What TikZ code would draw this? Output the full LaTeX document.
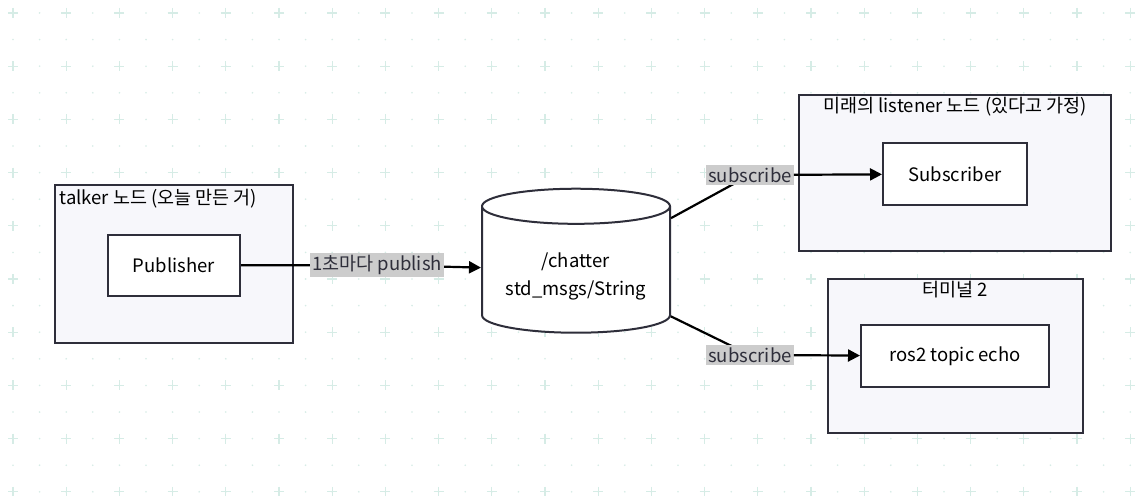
\documentclass[tikz,border=0pt]{standalone}
\usepackage{fontspec}
\setmainfont{Noto Sans CJK KR}
\usetikzlibrary{shapes.geometric,arrows.meta}
\definecolor{grid}{HTML}{D6ECE6}
\definecolor{edge}{HTML}{2E2E3A}
\definecolor{clfill}{HTML}{F7F7FB}
\definecolor{lbl}{HTML}{CCCCCC}
\begin{document}
\begin{tikzpicture}[x=1pt,y=-1pt,
  font=\fontsize{18.5}{22}\selectfont,
  cluster/.style={draw=edge,line width=2pt,fill=clfill},
  box/.style={draw=edge,line width=2pt,fill=white,inner sep=0},
  elab/.style={fill=lbl,inner xsep=2pt,inner ysep=2.5pt,text=edge},
  conn/.style={line width=2.2pt,black},
  arr/.style={conn,-{Triangle[length=12pt,width=12pt]}}]
\useasboundingbox (0,0) rectangle (1145,495);
\fill[white] (0,0) rectangle (1145,495);
\foreach \i in {0,...,43} \foreach \j in {0,...,18} {
  \fill[grid] (13+26.6*\i,13+26.6*\j) circle (0.9);
}
\foreach \i in {0,...,21} \foreach \j in {0,...,9} {
  \draw[grid,line width=1.2pt] (13+53.2*\i-5,13+53.2*\j) -- ++(10,0) (13+53.2*\i,13+53.2*\j-5) -- ++(0,10);
}
% clusters
\node[cluster,minimum width=238,minimum height=158] (c1) at (174,264) {};
\node[anchor=north west] (t1) at (56,186) {talker 노드 (오늘 만든 거)};
\node[cluster,minimum width=312,minimum height=156] (c2) at (955,173) {};
\node[anchor=north] (t2) at (955,94) {미래의 listener 노드 (있다고 가정)};
\node[cluster,minimum width=255,minimum height=154] (c3) at (955.5,356) {};
\node[anchor=north] (t3) at (955,278) {터미널 2};
% boxes
\node[box,minimum width=132,minimum height=61] (pub) at (174,265.5) {Publisher};
\node[box,minimum width=144,minimum height=62] (sub) at (955,174) {Subscriber};
\node[box,minimum width=188,minimum height=62] (echo) at (955,356) {ros2 topic echo};
\node[draw=edge,line width=2pt,fill=white,shape=cylinder,shape border rotate=90,aspect=0.25,
  minimum width=188,minimum height=144,align=center,inner sep=0] (cyl) at (576,270)
  {\phantom{/chatter}\\[6pt]\phantom{std\_msgs/String}};
\node[align=center] (ct) at (576,276) {/chatter\\[6pt]std\_msgs/String};
% connectors
\node[elab] (l0) at (377,265) {1초마다 publish};
\draw[conn] (pub) -- (l0);
\draw[arr] (l0) -- (cyl);
\node[elab] (l1) at (750,175) {};
\node[elab] (l2) at (750,355) {};
\draw[conn] (cyl) -- (l1.center);
\draw[conn] (cyl) -- (l2.center);
\node[elab] (l1) at (750,175) {subscribe};
\node[elab] (l2) at (750,355) {subscribe};
\draw[arr] (l1) -- (sub);
\draw[arr] (l2) -- (echo);
\end{tikzpicture}
\end{document}
